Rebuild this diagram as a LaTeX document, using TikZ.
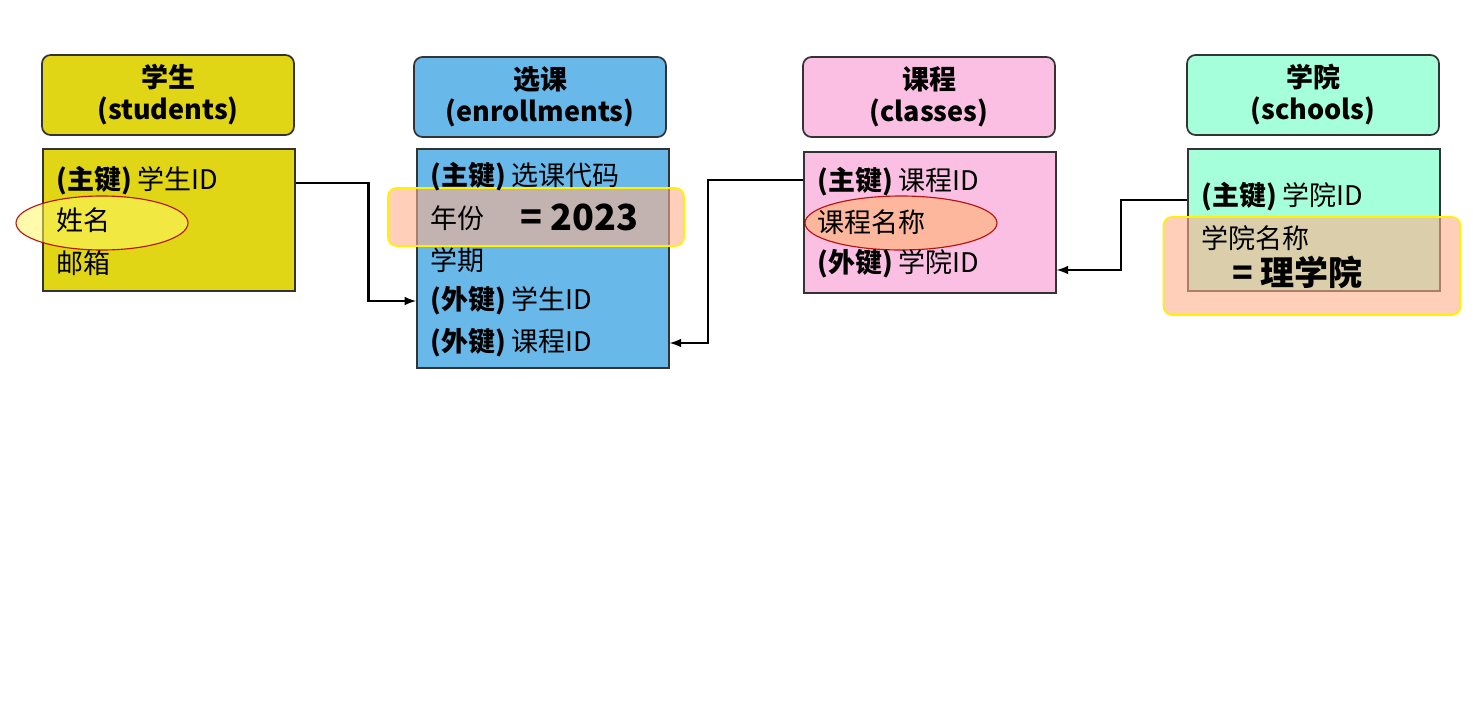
\documentclass[tikz,border=0pt]{standalone}
\usepackage{fontspec}
\setmainfont{Noto Sans CJK SC}
\usetikzlibrary{positioning,calc,shapes.geometric}
\tikzstyle{head}=[rectangle,draw=black!80,rounded corners=3mm,line width=0.6mm,minimum width=252pt,minimum height=80pt,align=center,font=\fontsize{27}{32}\selectfont\bfseries]
\tikzstyle{body}=[rectangle,draw=black!80,line width=0.6mm,minimum width=252pt,anchor=north west]
\tikzstyle{row}=[anchor=west,inner sep=0pt,font=\fontsize{27}{30}\selectfont]
\tikzstyle{fk}=[-latex,line width=1mm]
\tikzstyle{circled}=[ellipse,draw=red!70!black,line width=0.4mm,fill opacity=0.55,draw opacity=0.9]
\tikzstyle{band}=[draw=yellow,line width=0.6mm,rounded corners=3mm,fill=orange!60!red!45,fill opacity=0.6]
\begin{document}
\begin{tikzpicture}[x=1pt,y=-1pt]
\useasboundingbox (0,0) rectangle (1473,720);

% table headers
\node (shead) [head,fill=yellow!70!olive!90] at (168,95) {学生\\(students)};
\node (ehead) [head,fill=cyan!80!blue!60] at (540,97) {选课\\(enrollments)};
\node (chead) [head,fill=magenta!25] at (929,97) {课程\\(classes)};
\node (khead) [head,fill=green!40!cyan!35] at (1313,95) {学院\\(schools)};

% table bodies
\node (sbody) [body,fill=yellow!70!olive!90,minimum height=142pt] at (42,148) {};
\node (ebody) [body,fill=cyan!80!blue!60,minimum height=219pt] at (416,148) {};
\node (cbody) [body,fill=magenta!25,minimum height=141pt] at (803,151) {};
\node (kbody) [body,fill=green!40!cyan!35,minimum height=142pt] at (1187,148) {};

% highlights
\node (sname) [circled,fill=yellow!60,minimum width=172pt,minimum height=54pt] at (102,223) {};
\node (cname) [circled,fill=orange!60,minimum width=192pt,minimum height=54pt] at (901,223) {};
\node (eyear) [band,minimum width=296pt,minimum height=58pt] at (536,217) {};
\node (kname) [band,minimum width=297pt,minimum height=98pt] at (1312,266) {};

% rows
\node (sid) [row] at (56,181) {\textbf{(主键)} 学生ID};
\node (snm) [row] at (56,220) {姓名};
\node (sml) [row] at (56,263) {邮箱};

\node (eid) [row] at (430,177) {\textbf{(主键)} 选课代码};
\node (eyr) [row] at (430,218) {年份};
\node (eeq) [row,font=\fontsize{36}{40}\selectfont\bfseries] at (520,217) {= 2023};
\node (etm) [row] at (430,260) {学期};
\node (esid) [row] at (430,301) {\textbf{(外键)} 学生ID};
\node (ecid) [row] at (430,343) {\textbf{(外键)} 课程ID};

\node (cid) [row] at (817,182) {\textbf{(主键)} 课程ID};
\node (cnm) [row] at (817,222) {课程名称};
\node (ckid) [row] at (817,264) {\textbf{(外键)} 学院ID};

\node (kid) [row] at (1201,197) {\textbf{(主键)} 学院ID};
\node (knm) [row] at (1201,238) {学院名称};
\node (keq) [row,font=\fontsize{34}{38}\selectfont\bfseries] at (1232,272) {= 理学院};

% foreign keys
\draw [fk] (sbody.east |- 0,183) -- ++(73,0) |- (ebody.west |- esid);
\draw [fk] (cbody.west |- 0,180) -- ++(-95,0) |- (ebody.east |- ecid);
\draw [fk] (kbody.west |- 0,200) -- ++(-66,0) |- (cbody.east |- 0,270);

\end{tikzpicture}
\end{document}
